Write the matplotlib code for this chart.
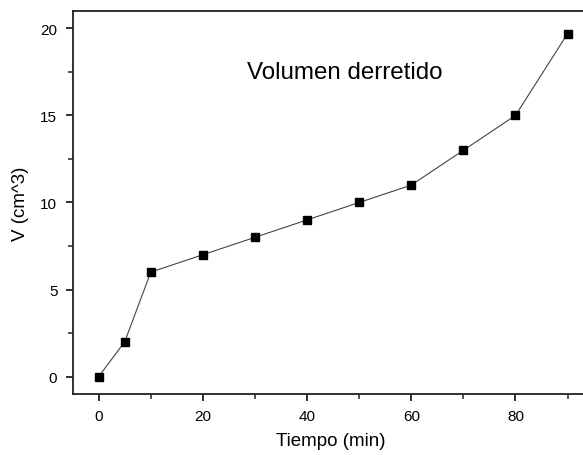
import matplotlib
matplotlib.use("Agg")
import matplotlib.pyplot as plt
from matplotlib.ticker import MultipleLocator

plt.rcParams['font.family'] = ['Liberation Sans', 'DejaVu Sans']

tiempo = [0, 5, 10, 20, 30, 40, 50, 60, 70, 80, 90]
volumen = [0, 2, 6, 7, 8, 9, 10, 11, 13, 15, 19.7]

fig = plt.figure(figsize=(5.83, 4.56), dpi=100)
ax = fig.add_axes([0.1246, 0.1338, 0.8847, 0.8399])
ax.plot(tiempo, volumen, color='#444444', linewidth=0.8,
        marker='s', markersize=6, markerfacecolor='black', markeredgecolor='black')
ax.set_xlim(-5, 94)
ax.set_ylim(-1, 21)
ax.xaxis.set_major_locator(MultipleLocator(20))
ax.xaxis.set_minor_locator(MultipleLocator(10))
ax.yaxis.set_major_locator(MultipleLocator(5))
ax.yaxis.set_minor_locator(MultipleLocator(2.5))
ax.spines['right'].set_visible(False)
for s in ['left', 'bottom', 'top']:
    ax.spines[s].set_linewidth(1.3)
    ax.spines[s].set_color('#222222')
ax.tick_params(which='major', direction='out', length=5, width=1.3, labelsize=11, color='#222222', pad=6)
ax.tick_params(which='minor', direction='out', length=3.5, width=1.1, color='#222222')
ax.set_xlabel('Tiempo (min)', fontsize=13.5, labelpad=6)
ax.set_ylabel('V (cm^3)', fontsize=13.5, labelpad=8)
ax.text(0.3374, 0.824, 'Volumen derretido', transform=ax.transAxes, fontsize=17.4, va='baseline')
fig.savefig('out.png', dpi=100)
